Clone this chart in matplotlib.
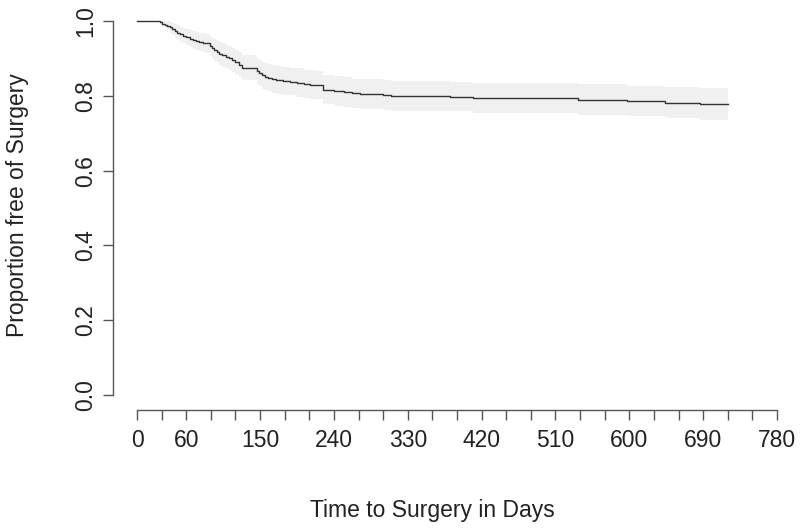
import matplotlib
matplotlib.use("Agg")
import matplotlib.pyplot as plt

plt.rcParams['font.family'] = ['Liberation Sans', 'DejaVu Sans']

# Kaplan-Meier estimate (days, survival after the step)
times = [0, 28, 31, 34, 37, 40, 43, 46, 49, 52,
         56, 60, 64, 68, 72, 76, 80, 84, 89, 91,
         94, 97, 100, 104, 108, 112, 116, 120, 124, 128,
         146, 149, 152, 156, 160, 165, 170, 178, 186, 195,
         204, 211, 218, 227, 240, 252, 262, 272, 300, 309,
         381, 409, 537, 597, 643, 686, 720]
surv = [1.000, 0.996, 0.993, 0.990, 0.987, 0.983, 0.978, 0.973, 0.969, 0.965,
        0.961, 0.957, 0.953, 0.950, 0.947, 0.944, 0.942, 0.940, 0.933, 0.927,
        0.922, 0.918, 0.913, 0.909, 0.904, 0.900, 0.895, 0.890, 0.883, 0.875,
        0.866, 0.860, 0.855, 0.851, 0.848, 0.845, 0.842, 0.840, 0.838, 0.835,
        0.832, 0.830, 0.829, 0.816, 0.813, 0.810, 0.807, 0.805, 0.802, 0.800,
        0.798, 0.794, 0.790, 0.786, 0.782, 0.778, 0.778]
lower = [1.000, 0.990, 0.985, 0.980, 0.975, 0.969, 0.962, 0.955, 0.950, 0.945,
         0.940, 0.935, 0.930, 0.926, 0.923, 0.919, 0.917, 0.914, 0.906, 0.899,
         0.893, 0.889, 0.883, 0.878, 0.873, 0.868, 0.863, 0.857, 0.849, 0.841,
         0.831, 0.825, 0.819, 0.815, 0.812, 0.808, 0.805, 0.803, 0.801, 0.797,
         0.794, 0.792, 0.791, 0.777, 0.774, 0.771, 0.768, 0.765, 0.762, 0.760,
         0.758, 0.754, 0.749, 0.745, 0.740, 0.736, 0.736]
upper = [1.000, 1.000, 1.000, 1.000, 0.999, 0.997, 0.994, 0.991, 0.988, 0.985,
         0.982, 0.979, 0.976, 0.974, 0.971, 0.969, 0.967, 0.966, 0.960, 0.955,
         0.951, 0.947, 0.943, 0.940, 0.935, 0.932, 0.927, 0.923, 0.917, 0.909,
         0.901, 0.895, 0.891, 0.887, 0.884, 0.882, 0.879, 0.877, 0.875, 0.873,
         0.870, 0.868, 0.867, 0.855, 0.852, 0.849, 0.846, 0.845, 0.842, 0.840,
         0.838, 0.834, 0.831, 0.827, 0.824, 0.820, 0.820]

x_ticks = list(range(0, 781, 30))
x_labelled = [0, 60, 150, 240, 330, 420, 510, 600, 690, 780]
y_ticks = [0.0, 0.2, 0.4, 0.6, 0.8, 1.0]

W, H = 800, 531
fig = plt.figure(figsize=(W / 100, H / 100), dpi=100)
# plot region in pixels: left 113, right 800, top 6, bottom 410
ax = fig.add_axes([113 / W, (H - 410) / H, (800 - 113) / W, (410 - 6) / H])
ax.set_xlim(-29.25, 808)
ax.set_ylim(-0.04, 1.04)

ax.fill_between(times, lower, upper, step='post', color='#f0f0f0', lw=0)
ax.step(times, surv, where='post', color='#333333', lw=1.0)

for s in ['top', 'right']:
    ax.spines[s].set_visible(False)
ax.spines['left'].set_bounds(0, 1)
ax.spines['bottom'].set_bounds(0, 780)
for s in ['left', 'bottom']:
    ax.spines[s].set_color('#555555')
    ax.spines[s].set_linewidth(1.0)

ax.set_xticks(x_ticks)
ax.set_xticklabels([str(v) if v in x_labelled else '' for v in x_ticks])
ax.set_yticks(y_ticks)
ax.set_yticklabels([f"{v:.1f}" for v in y_ticks], rotation=90, va='center')
ax.tick_params(axis='both', length=7.5, width=1.0, color='#555555',
               labelsize=16.5, labelcolor='#222222', pad=6)
ax.tick_params(axis='y', pad=4)

fig.text(432 / W, 1 - 510 / H, "Time to Surgery in Days", ha='center',
         va='center', fontsize=16.5, color='#222222')
fig.text(18 / W, 1 - 205 / H, "Proportion free of Surgery", ha='center',
         va='center', rotation=90, fontsize=16.5, color='#222222')

fig.savefig("out.png", dpi=100)
